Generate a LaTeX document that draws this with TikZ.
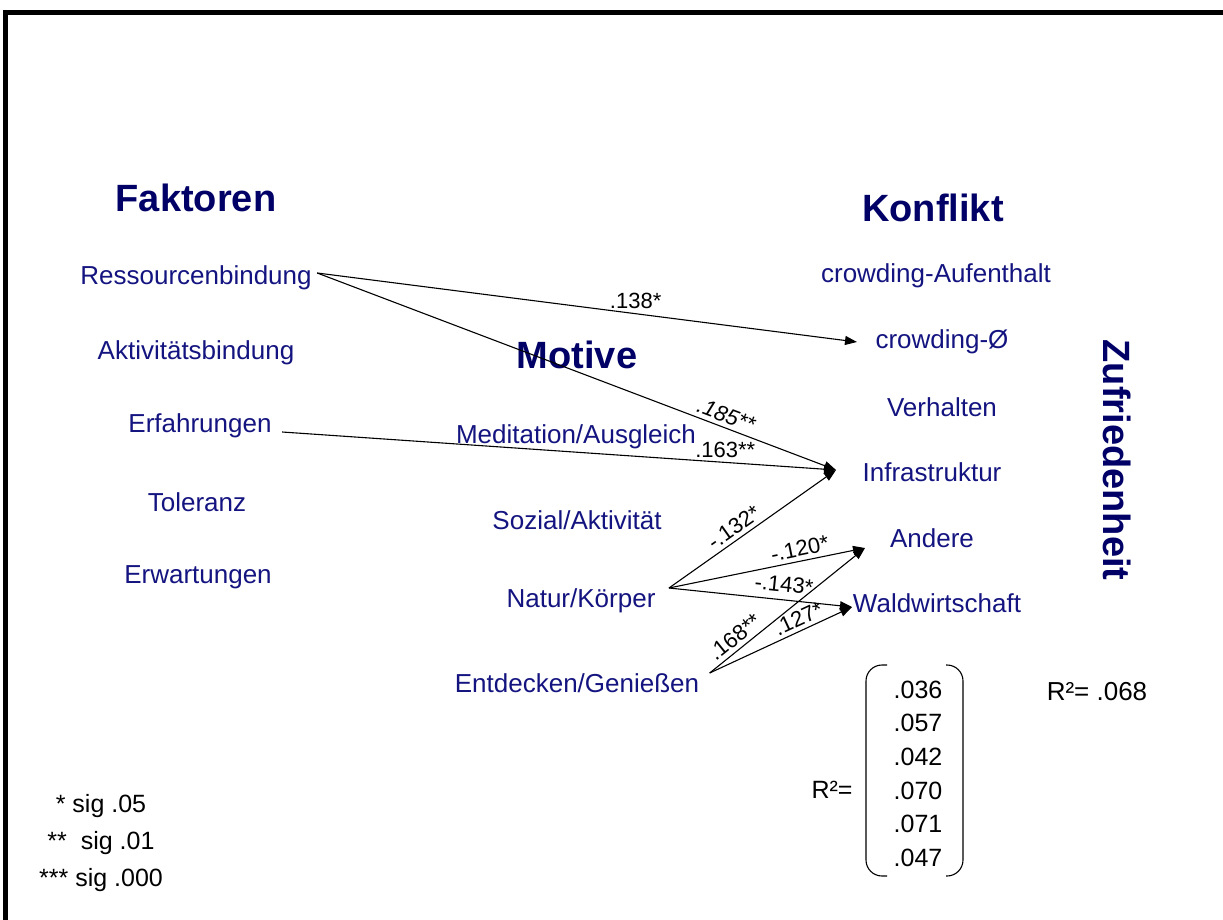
\documentclass[tikz,border=0pt]{standalone}
\usepackage{fontspec}
\setmainfont{Liberation Sans}
\usetikzlibrary{arrows.meta}
\definecolor{navyhead}{RGB}{0,0,102}
\definecolor{navyitem}{RGB}{20,20,128}

\begin{document}
\begin{tikzpicture}[x=1pt,y=-1pt,>={Triangle[length=12pt,width=9pt]},line width=1.1pt]
    \tikzstyle{head} = [font=\fontsize{38}{44}\selectfont\bfseries,text=navyhead]
    \tikzstyle{item} = [font=\fontsize{26}{30}\selectfont,text=navyitem,inner sep=5pt]
    \tikzstyle{coef} = [font=\fontsize{22}{24}\selectfont,inner sep=4pt]
    \tikzstyle{rval} = [font=\fontsize{25}{28}\selectfont]

    \useasboundingbox (0,0) rectangle (1223,920);
    \draw[line width=5pt] (5.5,920) -- (5.5,12.5) -- (1223,12.5);

    \node[head] (fak) at (196,198) {Faktoren};
    \node[head] (kon) at (933,208) {Konflikt};
    \node[head] (mot) at (577,355) {Motive};
    \node[head,rotate=-90] (zuf) at (1117,460) {Zufriedenheit};

    \node[item] (ress) at (196,278) {Ressourcenbindung};
    \node[item] (akt) at (196,353) {Aktivitätsbindung};
    \node[item] (erf) at (200,426) {Erfahrungen};
    \node[item] (tol) at (197,502) {Toleranz};
    \node[item] (erw) at (198,577) {Erwartungen};

    \node[item] (medi) at (576,437) {Meditation/Ausgleich};
    \node[item] (soz) at (577,520) {Sozial/Aktivität};
    \node[item] (natur) at (581,601) {Natur/Körper};
    \node[item] (entd) at (577,683) {Entdecken/Genießen};

    \node[item] (aufe) at (936,276) {crowding-Aufenthalt};
    \node[item] (crow) at (942,342) {crowding-Ø};
    \node[item] (verh) at (942,407) {Verhalten};
    \node[item] (infra) at (932,472) {Infrastruktur};
    \node[item] (andere) at (932,538) {Andere};
    \node[item] (wald) at (937,603) {Waldwirtschaft};

    \coordinate (crowin) at (857,342);
    \coordinate (infrain) at (836,470);
    \coordinate (anderein) at (865,548);
    \coordinate (waldin) at (852,607);
    \coordinate (ressout) at ([yshift=5pt]ress.east);
    \coordinate (erfout) at ([xshift=5pt,yshift=-6pt]erf.east);
    \coordinate (naturout) at ([xshift=8pt,yshift=13pt]natur.east);
    \coordinate (entdout) at ([xshift=5pt,yshift=10pt]entd.east);

    \draw[->] (ressout) -- node[coef,above,pos=0.59] (c1) {.138*} (crowin);
    \draw[->] (ressout) -- node[coef,above,sloped,pos=0.78] (c2) {\itshape .185**} (infrain);
    \draw[->] (erfout) -- node[coef,above,pos=0.8] (c3) {.163**} (infrain);
    \draw[->] (naturout) -- node[coef,above,sloped,pos=0.43] (c4) {-.132*} (infrain);
    \draw[->] (naturout) -- node[coef,above,sloped,pos=0.68] (c5) {-.120*} (anderein);
    \draw[->] (naturout) -- node[coef,above=3pt,sloped,pos=0.62] (c6) {-.143*} (waldin);
    \draw[->] (entdout) -- node[coef,above,sloped,pos=0.21] (c7) {.168**} (anderein);
    \draw[->] (entdout) -- node[coef,above,sloped,pos=0.66] (c8) {.127*} (waldin);

    % R^2 Spalte
    \foreach \v [count=\i] in {.036,.057,.042,.070,.071,.047}
        \node[rval] (r\i) at (918,656+33.6*\i) {\v};
    \node[rval] (rlab) at (832,790) {R²=};
    \draw[rounded corners=16pt] (887,665) -- (866,665) -- (866,876) -- (887,876);
    \draw[rounded corners=16pt] (946,665) -- (963,665) -- (963,876) -- (946,876);
    \node[rval,font=\fontsize{26}{28}\selectfont] (rtot) at (1097,692) {R²= .068};

    \node[rval,align=center,font=\fontsize{25}{37}\selectfont] (sig) at (101,843) {* sig .05\\**\ \ sig .01\\*** sig .000};
\end{tikzpicture}
\end{document}
